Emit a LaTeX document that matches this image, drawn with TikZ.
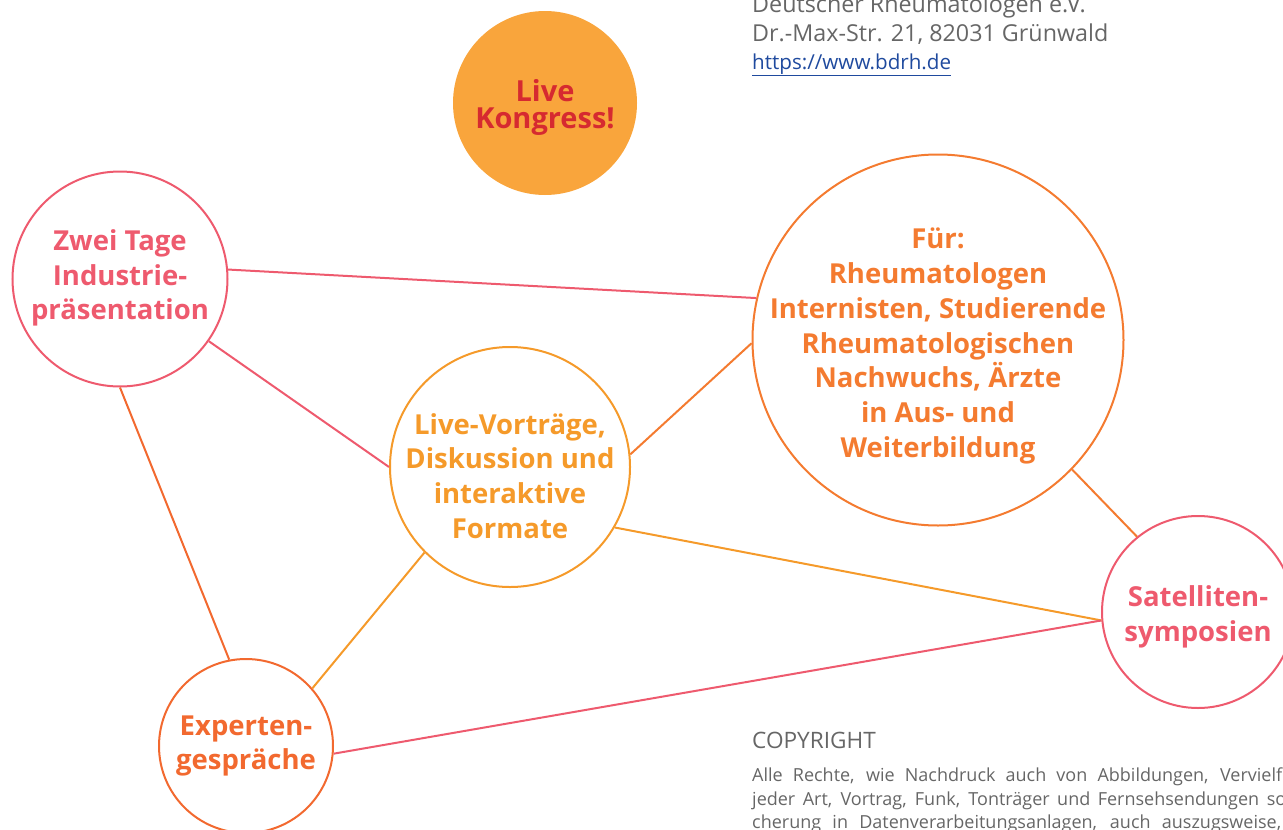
\documentclass[tikz,border=0pt]{standalone}
\usepackage{fontspec}
\setmainfont{Open Sans}
\usepackage{tikz}

\definecolor{rosa}{HTML}{EE5A6E}
\definecolor{orng}{HTML}{F47B30}
\definecolor{rotorng}{HTML}{F2692F}
\definecolor{gelb}{HTML}{F59A2A}
\definecolor{kreisfill}{HTML}{F9A53C}
\definecolor{rot}{HTML}{D62A30}
\definecolor{grau}{HTML}{666666}
\definecolor{linkblau}{HTML}{1F4A9E}

\begin{document}
\begin{tikzpicture}[x=1pt,y=-1pt,
	bubble/.style={circle,draw,line width=2pt,inner sep=0pt},
	btext/.style={inner sep=0pt,align=center,font=\bfseries\fontsize{27.5}{34.7}\selectfont},
	verb/.style={line width=2pt},
	info/.style={anchor=base west,inner sep=0pt,text=grau}]
				\useasboundingbox (0,0) rectangle (1283,830);
				\clip (0,0) rectangle (1283,830);
				% kreise
				\node[circle,fill=kreisfill,minimum size=184pt,inner sep=0pt] (live) at (545,103) {};
				\node[bubble,rosa,minimum size=215pt] (zwei) at (120,279) {};
				\node[bubble,orng,minimum size=371pt] (fuer) at (938,340) {};
				\node[bubble,gelb,minimum size=240pt] (vortrag) at (510,467) {};
				\node[bubble,rosa,minimum size=192pt] (sat) at (1198,612) {};
				\node[bubble,rotorng,minimum size=174pt] (exp) at (246,746) {};
				% texte
				\node[btext,text=rot,font=\bfseries\fontsize{29}{27}\selectfont] (livetext) at (545,107) {Live\\Kongress!};
				\node[btext,text=rosa] (zweitext) at (120,278) {Zwei Tage\\Industrie-\\präsentation};
				\node[btext,text=orng] (fuertext) at (938,346)
					{Für:\\Rheumatologen\\Internisten, Studierende\\Rheumatologischen\\Nachwuchs, Ärzte\\in Aus- und\\Weiterbildung};
				\node[btext,text=gelb] (vortragtext) at (510,476) {Live-Vorträge,\\Diskussion und\\interaktive\\Formate};
				\node[btext,text=rosa] (sattext) at (1198,617) {Satelliten-\\symposien};
				\node[btext,text=rotorng] (exptext) at (246,746) {Experten-\\gespräche};
				% verbindungen
				\draw[verb,rosa] (zwei.5) -- (fuer.167);
				\draw[verb,rosa] (zwei.-35) -- (vortrag.180);
				\draw[verb,rotorng] (zwei.-90) -- (exp.101);
				\draw[verb,orng] (vortrag.6) -- (fuer.181);
				\draw[verb,gelb] (vortrag.-30) -- (sat.185);
				\draw[verb,gelb] (vortrag.-135) -- (exp.41);
				\draw[verb,orng] (fuer.-44) -- (sat.129);
				\draw[verb,rosa] (exp.-5) -- (sat.185);
				% adresse
				\node[info,font=\fontsize{23.3}{28}\selectfont] (verein) at (752,12) {Deutscher Rheumatologen e.V.};
				\node[info,font=\fontsize{23.3}{28}\selectfont] (adresse) at (752,41) {Dr.-Max-Str. 21, 82031 Grünwald};
				\node[info,text=linkblau,font=\fontsize{20.6}{24}\selectfont] (web) at (752,69) {\underline{https://www.bdrh.de}};
				% copyright
				\node[info,font=\fontsize{22.6}{26}\selectfont] (copy) at (752,748) {COPYRIGHT};
				\node[info,font=\fontsize{18}{24}\selectfont] (zeile1) at (752,781)
					{\makebox[540pt][s]{Alle Rechte, wie Nachdruck auch von Abbildungen, Vervielfä}};
				\node[info,font=\fontsize{18}{24}\selectfont] (zeile2) at (752,805)
					{\makebox[534pt][s]{jeder Art, Vortrag, Funk, Tonträger und Fernsehsendungen so}};
				\node[info,font=\fontsize{18}{24}\selectfont] (zeile3) at (752,828)
					{\makebox[529pt][s]{cherung in Datenverarbeitungsanlagen, auch auszugsweise,}};
\end{tikzpicture}
\end{document}
